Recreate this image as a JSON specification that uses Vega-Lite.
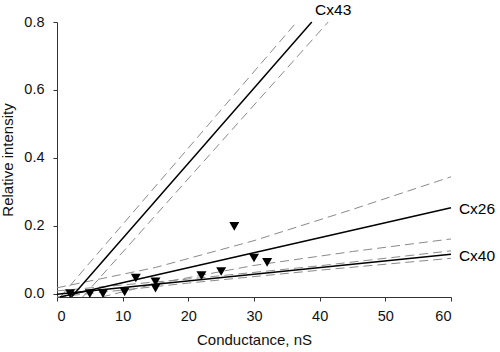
{
  "$schema": "https://vega.github.io/schema/vega-lite/v6.json",
  "width": 394,
  "height": 275,
  "autosize": {"type": "none"},
  "padding": {"left": 57, "top": 22, "right": 49, "bottom": 55},
  "background": "white",
  "config": {
    "view": {"stroke": null},
    "font": "Liberation Sans",
    "axis": {
      "grid": false,
      "domainColor": "#333",
      "tickColor": "#333",
      "tickSize": 4,
      "labelFontSize": 14.5,
      "labelColor": "#111",
      "titleFontSize": 15,
      "titleFontWeight": "normal",
      "titleColor": "#111",
      "labelFont": "Liberation Sans",
      "titleFont": "Liberation Sans"
    }
  },
  "datasets": {
    "pts": [
      {"x": 2, "y": 0.0},
      {"x": 5, "y": 0.0},
      {"x": 7, "y": 0.0},
      {"x": 10.3, "y": 0.005},
      {"x": 12, "y": 0.046},
      {"x": 15, "y": 0.035},
      {"x": 15, "y": 0.016},
      {"x": 22, "y": 0.053},
      {"x": 25, "y": 0.065},
      {"x": 27, "y": 0.198},
      {"x": 30, "y": 0.105},
      {"x": 32, "y": 0.092}
    ],
    "solid": [
      {"id": "Cx43", "x": 2.2, "y": -0.01},
      {"id": "Cx43", "x": 38.8, "y": 0.8},
      {"id": "Cx26", "x": 0.45, "y": -0.01},
      {"id": "Cx26", "x": 60, "y": 0.253},
      {"id": "Cx40", "x": 0, "y": -0.002},
      {"id": "Cx40", "x": 60, "y": 0.116}
    ],
    "dashed": [
      {"id": "Cx43u", "x": 0.5, "y": -0.01},
      {"id": "Cx43u", "x": 36.5, "y": 0.8},
      {"id": "Cx43l", "x": 3.9, "y": -0.01},
      {"id": "Cx43l", "x": 41.3, "y": 0.8},
      {"id": "Cx26u", "x": 0, "y": 0.017},
      {"id": "Cx26u", "x": 15, "y": 0.077},
      {"id": "Cx26u", "x": 30, "y": 0.156},
      {"id": "Cx26u", "x": 45, "y": 0.248},
      {"id": "Cx26u", "x": 60, "y": 0.344},
      {"id": "Cx26l", "x": 6.8, "y": -0.01},
      {"id": "Cx26l", "x": 15, "y": 0.029},
      {"id": "Cx26l", "x": 30, "y": 0.083},
      {"id": "Cx26l", "x": 45, "y": 0.124},
      {"id": "Cx26l", "x": 60, "y": 0.161},
      {"id": "Cx40u", "x": 0, "y": 0.008},
      {"id": "Cx40u", "x": 20, "y": 0.043},
      {"id": "Cx40u", "x": 40, "y": 0.082},
      {"id": "Cx40u", "x": 60, "y": 0.126},
      {"id": "Cx40l", "x": 0, "y": -0.01},
      {"id": "Cx40l", "x": 20, "y": 0.031},
      {"id": "Cx40l", "x": 40, "y": 0.069},
      {"id": "Cx40l", "x": 60, "y": 0.104}
    ],
    "labels": [
      {"label": "Cx43", "x": 39.3, "y": 0.835},
      {"label": "Cx26", "x": 61.2, "y": 0.249},
      {"label": "Cx40", "x": 61.2, "y": 0.111}
    ]
  },
  "encoding": {
    "x": {
      "field": "x",
      "type": "quantitative",
      "scale": {"domain": [0, 60], "nice": false, "zero": false},
      "axis": {
        "title": "Conductance, nS",
        "values": [0, 10, 20, 30, 40, 50, 60],
        "labelPadding": 8,
        "titlePadding": 10
      }
    },
    "y": {
      "field": "y",
      "type": "quantitative",
      "scale": {"domain": [-0.01, 0.8], "nice": false, "zero": false},
      "axis": {
        "title": "Relative intensity",
        "values": [0, 0.2, 0.4, 0.6, 0.8],
        "format": ".1f",
        "labelPadding": 9,
        "titlePadding": 8
      }
    }
  },
  "layer": [
    {
      "data": {"name": "dashed"},
      "mark": {"type": "line", "color": "#8a8a8a", "strokeWidth": 1, "strokeDash": [9, 5]},
      "encoding": {"detail": {"field": "id"}}
    },
    {
      "data": {"name": "solid"},
      "mark": {"type": "line", "color": "#000", "strokeWidth": 1.5},
      "encoding": {"detail": {"field": "id"}}
    },
    {
      "data": {"name": "pts"},
      "mark": {"type": "point", "shape": "triangle-down", "filled": true, "color": "#000", "size": 100, "opacity": 1}
    },
    {
      "data": {"name": "labels"},
      "mark": {"type": "text", "align": "left", "baseline": "middle", "fontSize": 15.5, "color": "#000", "font": "Liberation Sans"},
      "encoding": {"text": {"field": "label"}}
    }
  ]
}
